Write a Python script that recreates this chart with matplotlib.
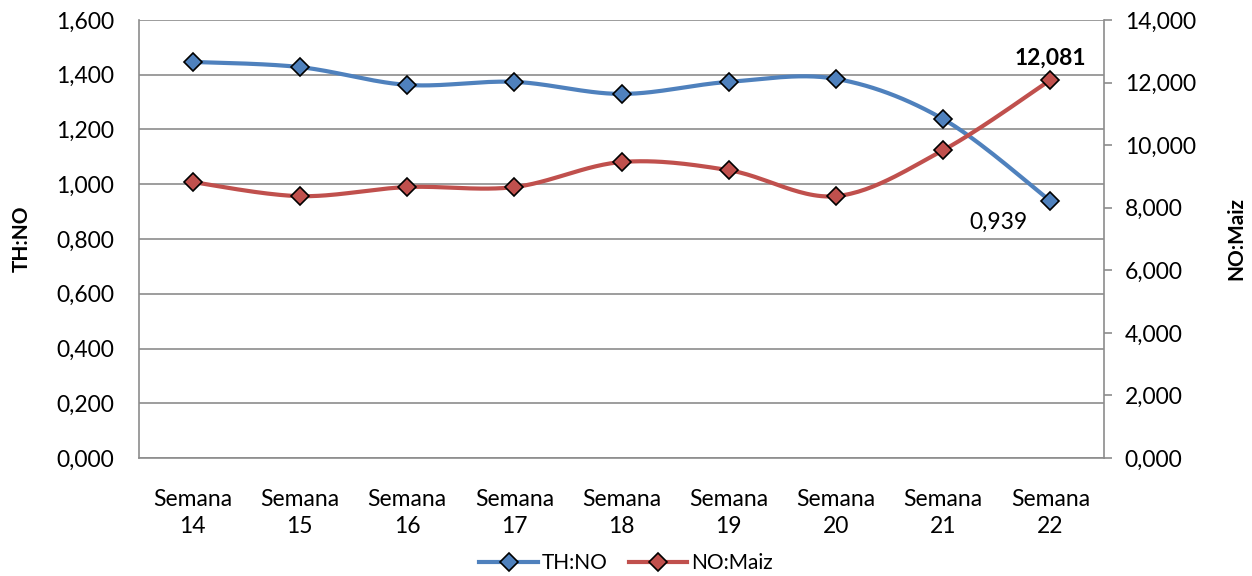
import numpy as np
import matplotlib
matplotlib.use('Agg')
import matplotlib.pyplot as plt
from matplotlib.ticker import FuncFormatter

# datos
semanas = ['Semana\n14', 'Semana\n15', 'Semana\n16', 'Semana\n17', 'Semana\n18',
           'Semana\n19', 'Semana\n20', 'Semana\n21', 'Semana\n22']
th_no = [1.447, 1.428, 1.363, 1.374, 1.330, 1.374, 1.385, 1.238, 0.939]
no_maiz = [8.82, 8.37, 8.66, 8.66, 9.46, 9.20, 8.37, 9.84, 12.081]

AZUL = '#4F81BD'
ROJO = '#C0504D'
GRIS = '#8C8C8C'

plt.rcParams['font.family'] = ['Lato', 'DejaVu Sans']


# curva suavizada tipo Excel (Catmull-Rom)
def suavizar(y, n=30):
    y = np.asarray(y, dtype=float)
    x = np.arange(len(y), dtype=float)
    px = np.concatenate([[x[0]], x, [x[-1]]])
    py = np.concatenate([[y[0]], y, [y[-1]]])
    xs, ys = [], []
    t = np.linspace(0, 1, n)
    for i in range(1, len(px) - 2):
        for p, out in ((px, xs), (py, ys)):
            p0, p1, p2, p3 = p[i - 1], p[i], p[i + 1], p[i + 2]
            out.extend(0.5 * ((2 * p1) + (-p0 + p2) * t
                              + (2 * p0 - 5 * p1 + 4 * p2 - p3) * t ** 2
                              + (-p0 + 3 * p1 - 3 * p2 + p3) * t ** 3))
    return np.array(xs), np.array(ys)


def coma(v, pos):
    return f'{v:,.3f}'.replace('.', ',')


fig = plt.figure(figsize=(12.52, 5.76), dpi=100)
ax = fig.add_axes([139 / 1252, 1 - 458 / 576, 965 / 1252, 438 / 576])
ax2 = ax.twinx()

x = np.arange(len(semanas))

sx, sy = suavizar(th_no)
ax.plot(sx, sy, color=AZUL, lw=3, zorder=3)
ax.plot(x, th_no, ls='none', marker='D', ms=9, mfc=AZUL, mec='black', mew=1.2, zorder=4)

sx, sy = suavizar(no_maiz)
ax2.plot(sx, sy, color=ROJO, lw=3, zorder=3)
ax2.plot(x, no_maiz, ls='none', marker='D', ms=9, mfc=ROJO, mec='black', mew=1.2, zorder=4)

ax.set_xlim(-0.5, len(semanas) - 0.5)
ax.set_ylim(0, 1.6)
ax.set_yticks(np.arange(0, 1.61, 0.2))
ax2.set_ylim(0, 14)
ax2.set_yticks(np.arange(0, 14.1, 2))
ax.yaxis.set_major_formatter(FuncFormatter(coma))
ax2.yaxis.set_major_formatter(FuncFormatter(coma))

ax.set_xticks(x)
ax.set_xticklabels(semanas, fontsize=16.5, linespacing=1.35)
ax.tick_params(axis='x', length=0, pad=22)
ax.tick_params(axis='y', length=0, labelsize=16.5, pad=18)
ax2.tick_params(axis='y', length=6, width=1.2, color=GRIS, direction='out', labelsize=16.5, pad=9)

ax.grid(axis='y', color=GRIS, lw=1.2)
ax.set_axisbelow(True)
for s in ('top', 'right'):
    ax.spines[s].set_visible(False)
    ax2.spines[s].set_visible(False)
for s in ('top', 'left', 'bottom'):
    ax2.spines[s].set_visible(False)
ax.spines['left'].set_color(GRIS)
ax.spines['left'].set_linewidth(1.2)
ax.spines['bottom'].set_color(GRIS)
ax.spines['bottom'].set_linewidth(1.2)
ax2.spines['right'].set_visible(True)
ax2.spines['right'].set_color(GRIS)
ax2.spines['right'].set_linewidth(1.2)

fig.text(22 / 1252, 1 - 239 / 576, 'TH:NO', rotation=90, fontsize=15, fontweight='bold',
         ha='center', va='center')
fig.text(1236 / 1252, 1 - 239 / 576, 'NO:Maiz', rotation=90, fontsize=15, fontweight='bold',
         ha='center', va='center')

# etiquetas de valores
ax.annotate(coma(th_no[-1], None), (x[-1], th_no[-1]), xytext=(-52, -21),
            textcoords='offset pixels', ha='center', va='center', fontsize=16.5)
ax2.annotate(coma(no_maiz[-1], None), (x[-1], no_maiz[-1]), xytext=(0, 22),
             textcoords='offset pixels', ha='center', va='center', fontsize=16.5,
             fontweight='bold')

h1, = ax.plot([], [], color=AZUL, lw=3, marker='D', ms=9, mfc=AZUL, mec='black', mew=1.2)
h2, = ax.plot([], [], color=ROJO, lw=3, marker='D', ms=9, mfc=ROJO, mec='black', mew=1.2)
fig.legend([h1, h2], ['TH:NO', 'NO:Maiz'], loc='center', bbox_to_anchor=(0.5, 1 - 563 / 576),
           ncol=2, frameon=False, fontsize=15, handlelength=2.8, columnspacing=1.0,
           handletextpad=0.2, borderaxespad=0, borderpad=0)

fig.savefig('out.png', dpi=100)
